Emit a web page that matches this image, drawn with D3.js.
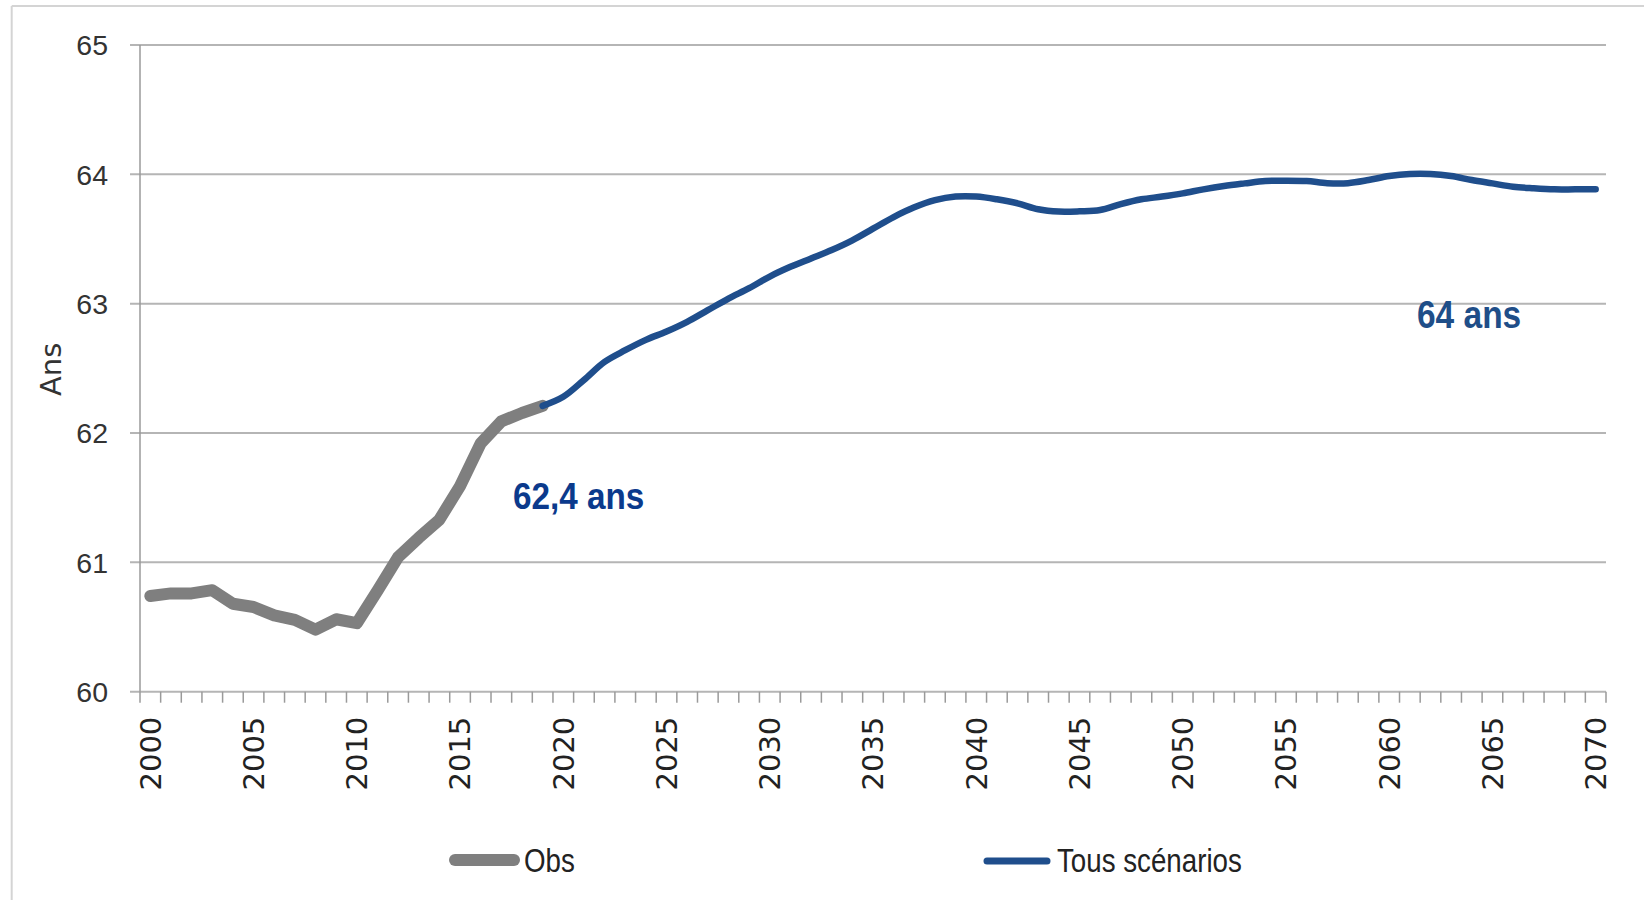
<!DOCTYPE html>
<html>
<head>
<meta charset="utf-8">
<script src="https://cdn.jsdelivr.net/npm/d3@7"></script>
<style>
  html, body { margin: 0; padding: 0; background: #fff; }
  svg { display: block; }
</style>
</head>
<body>
<svg id="chart" width="1644" height="900"></svg>
<script>
// ---- Data ----
const years = d3.range(2000, 2071);
const obsYears = d3.range(2000, 2020);
const obsValues = [60.74, 60.76, 60.76, 60.785, 60.68, 60.655, 60.59, 60.555, 60.48, 60.56,
                   60.53, 60.78, 61.04, 61.19, 61.33, 61.59, 61.92, 62.09, 62.155, 62.21];
const projYears = d3.range(2019, 2071);
const projValues = [62.21, 62.28, 62.41, 62.55, 62.64, 62.72, 62.785, 62.86, 62.95, 63.04,
                    63.12, 63.21, 63.285, 63.35, 63.415, 63.49, 63.58, 63.67, 63.745, 63.80,
                    63.828, 63.828, 63.807, 63.776, 63.73, 63.712, 63.714, 63.724, 63.77, 63.807,
                    63.828, 63.853, 63.884, 63.91, 63.93, 63.948, 63.951, 63.948, 63.932, 63.932,
                    63.956, 63.987, 64.003, 64.003, 63.987, 63.956, 63.93, 63.904, 63.892, 63.884,
                    63.884, 63.884];
const yTicks = [60, 61, 62, 63, 64, 65];
const xLabelYears = d3.range(2000, 2071, 5);
const seriesNames = ["Obs", "Tous scénarios"];
const annotationTexts = ["62,4 ans", "64 ans"];
const yTitle = "Ans";

// ---- Layout ----
const svg = d3.select("#chart");
const plotLeft = 140, plotRight = 1606, plotTop = 45, plotBottom = 691.7;

const x = d3.scaleBand().domain(years).range([plotLeft, plotRight]).paddingInner(0).paddingOuter(0);
const xc = d => x(d) + x.bandwidth() / 2;
const y = d3.scaleLinear().domain([60, 65]).range([plotBottom, plotTop]);

// outer frame (partial, as in the reference)
svg.append("line").attr("x1", 11.7).attr("x2", 1644).attr("y1", 6).attr("y2", 6)
  .attr("stroke", "#d4d4d4").attr("stroke-width", 2);
svg.append("line").attr("x1", 11.7).attr("x2", 11.7).attr("y1", 6).attr("y2", 900)
  .attr("stroke", "#d4d4d4").attr("stroke-width", 2);

// gridlines
svg.append("g").selectAll("line").data(yTicks).join("line")
  .attr("x1", plotLeft - 10).attr("x2", plotRight)
  .attr("y1", d => y(d)).attr("y2", d => y(d))
  .attr("stroke", "#b5b5b5").attr("stroke-width", 2);

// y axis line
svg.append("line").attr("x1", plotLeft).attr("x2", plotLeft).attr("y1", plotTop).attr("y2", plotBottom)
  .attr("stroke", "#9a9a9a").attr("stroke-width", 1.5);

// y labels
svg.append("g").selectAll("text").data(yTicks).join("text")
  .attr("x", 108).attr("y", d => y(d)).attr("dy", "0.36em")
  .attr("text-anchor", "end")
  .attr("font-family", "'Liberation Sans', Arial, sans-serif")
  .attr("font-size", 28.5).attr("fill", "#333")
  .text(d => d);

// y title
svg.append("text")
  .attr("transform", `translate(61,${(y(62) + y(63)) / 2 + 1}) rotate(-90)`)
  .attr("text-anchor", "middle")
  .attr("font-family", "'DejaVu Sans', sans-serif")
  .attr("font-size", 29).attr("fill", "#333")
  .text(yTitle);

// x axis ticks (category boundaries)
const boundaries = years.map(d => x(d)).concat([plotRight]);
svg.append("g").selectAll("line").data(boundaries).join("line")
  .attr("x1", d => d).attr("x2", d => d)
  .attr("y1", plotBottom).attr("y2", plotBottom + 11)
  .attr("stroke", "#9a9a9a").attr("stroke-width", 1.5);

// x labels
svg.append("g").selectAll("text").data(xLabelYears).join("text")
  .attr("transform", d => `translate(${xc(d)},${plotBottom + 25}) rotate(-90)`)
  .attr("dy", "0.36em")
  .attr("text-anchor", "end")
  .attr("font-family", "'DejaVu Sans', sans-serif")
  .attr("font-size", 29).attr("fill", "#222")
  .text(d => d);

// lines
const obsLine = d3.line().x((d, i) => xc(obsYears[i])).y(d => y(d));
svg.append("path").datum(obsValues)
  .attr("d", obsLine)
  .attr("fill", "none").attr("stroke", "#7f7f7f").attr("stroke-width", 12)
  .attr("stroke-linejoin", "round").attr("stroke-linecap", "round");

const projLine = d3.line().x((d, i) => xc(projYears[i])).y(d => y(d))
  .curve(d3.curveCatmullRom.alpha(0.5));
svg.append("path").datum(projValues)
  .attr("d", projLine)
  .attr("fill", "none").attr("stroke", "#1f4e8c").attr("stroke-width", 6.5)
  .attr("stroke-linejoin", "round").attr("stroke-linecap", "round");

// annotations
svg.append("text")
  .attr("transform", "translate(513,509) scale(0.95,1.05)")
  .attr("font-family", "'Liberation Sans', Arial, sans-serif").attr("font-weight", "bold")
  .attr("font-size", 35).attr("fill", "#0b3a8c")
  .text(annotationTexts[0]);
svg.append("text")
  .attr("transform", "translate(1417,328) scale(0.93,1.08)")
  .attr("font-family", "'Liberation Sans', Arial, sans-serif").attr("font-weight", "bold")
  .attr("font-size", 36).attr("fill", "#1f4e88")
  .text(annotationTexts[1]);

// legend
const lg = svg.append("g");
lg.append("line").attr("x1", 455).attr("x2", 514).attr("y1", 860).attr("y2", 860)
  .attr("stroke", "#7f7f7f").attr("stroke-width", 12).attr("stroke-linecap", "round");
lg.append("text").attr("transform", "translate(524,872) scale(0.84,1.03)")
  .attr("font-family", "'Liberation Sans', sans-serif")
  .attr("font-size", 33).attr("fill", "#222").text(seriesNames[0]);
lg.append("line").attr("x1", 987).attr("x2", 1047).attr("y1", 861).attr("y2", 861)
  .attr("stroke", "#1f4e8c").attr("stroke-width", 7).attr("stroke-linecap", "round");
lg.append("text").attr("transform", "translate(1057,872) scale(0.84,1.03)")
  .attr("font-family", "'Liberation Sans', sans-serif")
  .attr("font-size", 33).attr("fill", "#222").text(seriesNames[1]);
</script>
</body>
</html>
